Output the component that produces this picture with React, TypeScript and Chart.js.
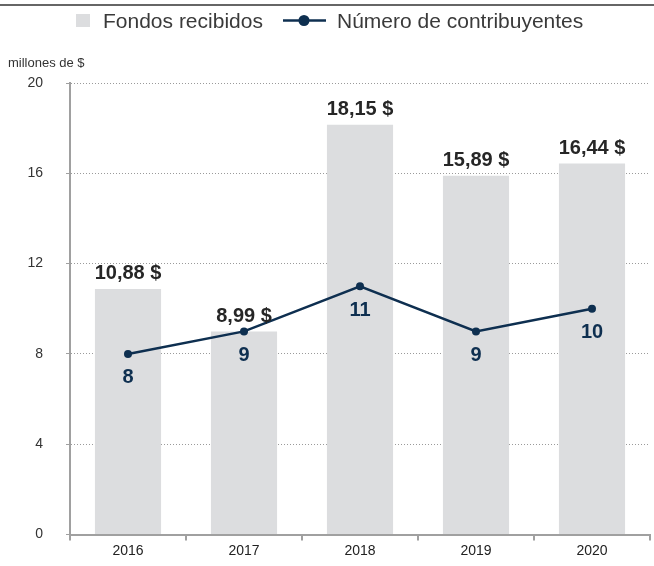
import React, { useEffect, useRef } from "react";
import { Chart, registerables } from "chart.js";

Chart.register(...registerables);

const years = ["2016", "2017", "2018", "2019", "2020"];
const fundsReceived = [10.88, 8.99, 18.15, 15.89, 16.44];
const contributors = [8, 9, 11, 9, 10];
const yTicks = [0, 4, 8, 12, 16, 20];

const FONT = "'Liberation Sans', Arial, Helvetica, sans-serif";
const BAR_COLOR = "#dcdddf";
const LINE_COLOR = "#0e2f50";
const AXIS_COLOR = "#a0a0a0";

const formatMoney = (v: number) => v.toFixed(2).replace(".", ",") + " $";

const extrasPlugin = {
  id: "extras",
  beforeDraw(chart: any) {
    const ctx = chart.ctx;
    ctx.save();
    // top rule
    ctx.fillStyle = "#666666";
    ctx.fillRect(0, 4, chart.width, 2);

    // legend
    ctx.fillStyle = BAR_COLOR;
    ctx.fillRect(76, 14, 14, 13);
    ctx.font = `21px ${FONT}`;
    ctx.fillStyle = "#3a3a3a";
    ctx.textAlign = "left";
    ctx.textBaseline = "alphabetic";
    ctx.fillText("Fondos recibidos", 103, 28);

    ctx.strokeStyle = LINE_COLOR;
    ctx.lineWidth = 2.5;
    ctx.beginPath();
    ctx.moveTo(283, 20.5);
    ctx.lineTo(326, 20.5);
    ctx.stroke();
    ctx.fillStyle = LINE_COLOR;
    ctx.beginPath();
    ctx.arc(304, 20.5, 5.5, 0, Math.PI * 2);
    ctx.fill();

    ctx.fillStyle = "#3a3a3a";
    ctx.fillText("Número de contribuyentes", 337, 28);

    // unit caption
    ctx.font = `13px ${FONT}`;
    ctx.fillStyle = "#333333";
    ctx.textBaseline = "middle";
    ctx.fillText("millones de $", 8, 63);
    ctx.restore();
  },
  afterDatasetsDraw(chart: any) {
    const ctx = chart.ctx;
    ctx.save();
    ctx.textAlign = "center";

    const barMeta = chart.getDatasetMeta(1);
    ctx.font = `bold 20px ${FONT}`;
    ctx.fillStyle = "#262626";
    ctx.textBaseline = "bottom";
    barMeta.data.forEach((bar: any, i: number) => {
      ctx.fillText(formatMoney(fundsReceived[i]), bar.x, bar.y - 5);
    });

    const lineMeta = chart.getDatasetMeta(0);
    ctx.fillStyle = LINE_COLOR;
    ctx.textBaseline = "top";
    lineMeta.data.forEach((pt: any, i: number) => {
      ctx.fillText(String(contributors[i]), pt.x, pt.y + 14);
    });
    ctx.restore();
  },
};

export default function App() {
  const canvasRef = useRef<HTMLCanvasElement | null>(null);

  useEffect(() => {
    if (!canvasRef.current) return;
    const chart = new Chart(canvasRef.current, {
      type: "bar",
      data: {
        labels: years,
        datasets: [
          {
            type: "line",
            label: "Número de contribuyentes",
            data: contributors,
            borderColor: LINE_COLOR,
            backgroundColor: LINE_COLOR,
            borderWidth: 2.5,
            pointRadius: 4,
            pointBackgroundColor: LINE_COLOR,
            pointBorderWidth: 0,
            tension: 0,
            order: 0,
          } as any,
          {
            type: "bar",
            label: "Fondos recibidos",
            data: fundsReceived,
            backgroundColor: BAR_COLOR,
            borderWidth: 0,
            categoryPercentage: 1,
            barPercentage: 0.57,
            order: 1,
          },
        ],
      },
      options: {
        responsive: false,
        animation: false,
        layout: { padding: { top: 83, right: 1, left: 0, bottom: 0 } },
        plugins: {
          legend: { display: false },
          tooltip: { enabled: false },
        },
        scales: {
          x: {
            offset: true,
            border: { color: AXIS_COLOR, width: 2 },
            grid: {
              offset: true,
              drawOnChartArea: false,
              drawTicks: true,
              tickLength: 6,
              color: AXIS_COLOR,
              lineWidth: 2,
            },
            ticks: {
              color: "#222222",
              font: { family: FONT, size: 14 },
              padding: 2,
            },
            afterFit(scale: any) {
              scale.height = 24;
            },
          },
          y: {
            min: 0,
            max: 20,
            afterBuildTicks(scale: any) {
              scale.ticks = yTicks.map((v) => ({ value: v }));
            },
            border: { color: AXIS_COLOR, width: 2, dash: [1, 2] },
            grid: {
              color: "#9a9a9a",
              lineWidth: 1,
              tickBorderDash: [1, 0],
              tickColor: AXIS_COLOR,
              tickLength: 4,
            } as any,
            ticks: {
              color: "#333333",
              font: { family: FONT, size: 14 },
              padding: 23,
            },
            afterFit(scale: any) {
              scale.width = 70;
            },
          },
        },
      },
      plugins: [extrasPlugin],
    });
    return () => chart.destroy();
  }, []);

  return (
    <div style={{ position: "fixed", left: 0, top: 0, width: 654, height: 566, background: "#fff" }}>
      <canvas ref={canvasRef} width={654} height={566} style={{ display: "block" }} />
    </div>
  );
}
